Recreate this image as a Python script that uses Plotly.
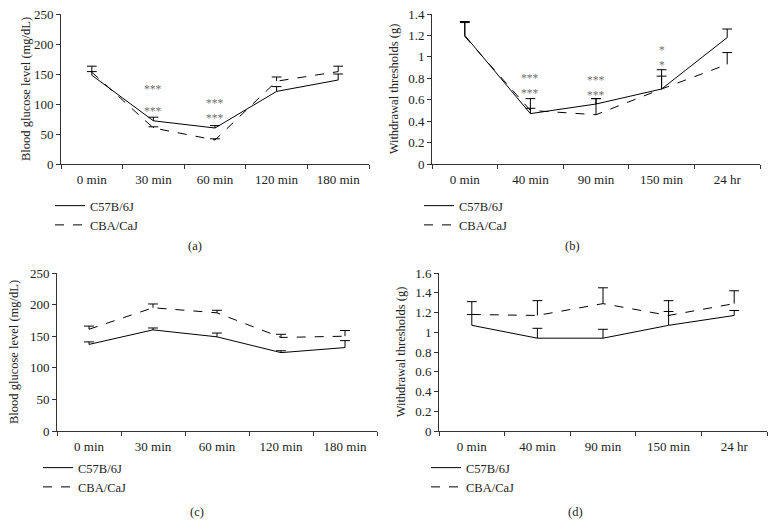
import plotly.graph_objects as go

# ---------------- data ----------------
cats_glucose = ["0 min", "30 min", "60 min", "120 min", "180 min"]
cats_thresh = ["0 min", "40 min", "90 min", "150 min", "24 hr"]

a_c57 = [148, 72, 60, 121, 140]
a_c57_err = [6, 6, 4, 8, 10]
a_cba = [153, 60, 40, 138, 154]
a_cba_err = [10, 2, 2, 7, 9]

b_c57 = [1.20, 0.47, 0.56, 0.70, 1.18]
b_c57_err = [0.12, 0.05, 0.05, 0.12, 0.08]
b_cba = [1.19, 0.50, 0.46, 0.70, 0.93]
b_cba_err = [0.14, 0.11, 0.15, 0.18, 0.11]

c_c57 = [137, 160, 149, 124, 132]
c_c57_err = [4, 3, 6, 3, 11]
c_cba = [161, 195, 187, 148, 150]
c_cba_err = [5, 6, 4, 5, 9]

d_c57 = [1.07, 0.94, 0.94, 1.07, 1.17]
d_c57_err = [0.11, 0.10, 0.09, 0.14, 0.05]
d_cba = [1.18, 1.17, 1.29, 1.17, 1.29]
d_cba_err = [0.13, 0.15, 0.16, 0.15, 0.13]

# significance markers: (axis suffix, category, y centre, text)
stars = [
    ("", "30 min", 125, "***"), ("", "30 min", 89, "***"),
    ("", "60 min", 90, "***<br>***"),
    ("2", "40 min", 0.735, "***<br>***"),
    ("2", "90 min", 0.715, "***<br>***"),
    ("2", "150 min", 0.99, "*<br>*"),
]

series_names = ["C57B/6J", "CBA/CaJ"]
panel_labels = ["(a)", "(b)", "(c)", "(d)"]

# ---------------- layout helpers ----------------
W, H = 775, 530
FONT = "Liberation Serif, Times New Roman, serif"
AX = "#333333"
TXT = "#222222"


def px_x(p):
    return p / W


def px_y(p):
    return 1 - p / H


panels = [
    # suffix, cats, c57, c57err, cba, cbaerr, xdom px, ydom px, ymax, dtick, ytitle, legend, standoff
    ("", cats_glucose, a_c57, a_c57_err, a_cba, a_cba_err, (61, 369), (14, 164), 250, 50,
     "Blood glucose level (mg/dL)", "legend", 0),
    ("2", cats_thresh, b_c57, b_c57_err, b_cba, b_cba_err, (432, 760), (14, 164), 1.4, 0.2,
     "Withdrawal thresholds (g)", "legend2", 6),
    ("3", cats_glucose, c_c57, c_c57_err, c_cba, c_cba_err, (57, 377), (273, 431), 250, 50,
     "Blood glucose level (mg/dL)", "legend3", 8),
    ("4", cats_thresh, d_c57, d_c57_err, d_cba, d_cba_err, (439, 767), (273, 431), 1.6, 0.2,
     "Withdrawal thresholds (g)", "legend4", 6),
]

fig = go.Figure()
layout = dict(
    template="none",
    width=W, height=H,
    margin=dict(l=0, r=0, t=0, b=0, autoexpand=False),
    paper_bgcolor="white", plot_bgcolor="white",
    font=dict(family=FONT, size=12, color=TXT),
    showlegend=True,
    hovermode=False,
)

# legend box top-left corners (px)
legend_pos = {
    "legend": (50, 191),
    "legend2": (419, 191),
    "legend3": (38, 453),
    "legend4": (426, 453),
}

for suf, cats, s1, e1, s2, e2, xd, yd, ymax, dt, ytitle, leg, so in panels:
    xa = "x" + suf
    ya = "y" + suf
    for vals, errs, dash, name in [(s1, e1, "solid", series_names[0]),
                                   (s2, e2, "dash", series_names[1])]:
        # the line with the vertical (upper-only) error stem
        fig.add_trace(go.Scatter(
            x=cats, y=vals, mode="lines", name=name,
            line=dict(color="black", width=1, dash=dash),
            error_y=dict(type="data", array=errs, arrayminus=[0] * len(errs),
                         symmetric=False, color="black", thickness=1, width=0),
            xaxis=xa, yaxis=ya, legend=leg,
        ))
        # caps on the top of the error stems only
        fig.add_trace(go.Scatter(
            x=cats, y=[v + e for v, e in zip(vals, errs)], mode="markers",
            marker=dict(symbol="line-ew", size=7, color="black",
                        line=dict(color="black", width=1)),
            xaxis=xa, yaxis=ya, showlegend=False, legend=leg,
        ))
    layout["xaxis" + suf] = dict(
        domain=[px_x(xd[0]), px_x(xd[1])], anchor=ya,
        type="category", categoryorder="array", categoryarray=cats,
        range=[-0.5, len(cats) - 0.5],
        showline=True, linecolor=AX, linewidth=1,
        ticks="outside", tickson="boundaries", ticklen=4, tickcolor=AX,
        showgrid=False, zeroline=False, ticklabelstandoff=3, automargin=False,
        tickfont=dict(family=FONT, size=13, color=TXT),
    )
    layout["yaxis" + suf] = dict(
        domain=[px_y(yd[1]), px_y(yd[0])], anchor=xa,
        range=[0, ymax], dtick=dt, tick0=0,
        showline=True, linecolor=AX, linewidth=1,
        ticks="outside", ticklen=4, tickcolor=AX,
        showgrid=False, zeroline=False, automargin=False,
        tickfont=dict(family=FONT, size=13, color=TXT),
        title=dict(text=ytitle, font=dict(family=FONT, size=12.5, color=TXT), standoff=so),
    )
    lx, ly = legend_pos[leg]
    layout[leg] = dict(
        x=px_x(lx), y=px_y(ly), xanchor="left", yanchor="top",
        bgcolor="rgba(0,0,0,0)", borderwidth=0,
        font=dict(family=FONT, size=12.5, color=TXT),
        tracegroupgap=0, itemwidth=30,
    )

annotations = []
for suf, cat, yv, txt in stars:
    annotations.append(dict(
        x=cat, y=yv, xref="x" + suf, yref="y" + suf, text=txt, showarrow=False,
        xanchor="center", yanchor="middle",
        font=dict(family=FONT, size=11.5, color="#707070"),
    ))

for lbl, (xc, yc) in zip(panel_labels, [(195, 246), (572, 246), (197, 512), (575, 512)]):
    annotations.append(dict(
        x=px_x(xc), y=px_y(yc), xref="paper", yref="paper", text=lbl, showarrow=False,
        xanchor="center", yanchor="middle",
        font=dict(family=FONT, size=12.5, color=TXT),
    ))

layout["annotations"] = annotations
fig.update_layout(**layout)
fig.write_html("out.html", config={"displayModeBar": False},
               post_script="document.body.style.margin='0px';")
